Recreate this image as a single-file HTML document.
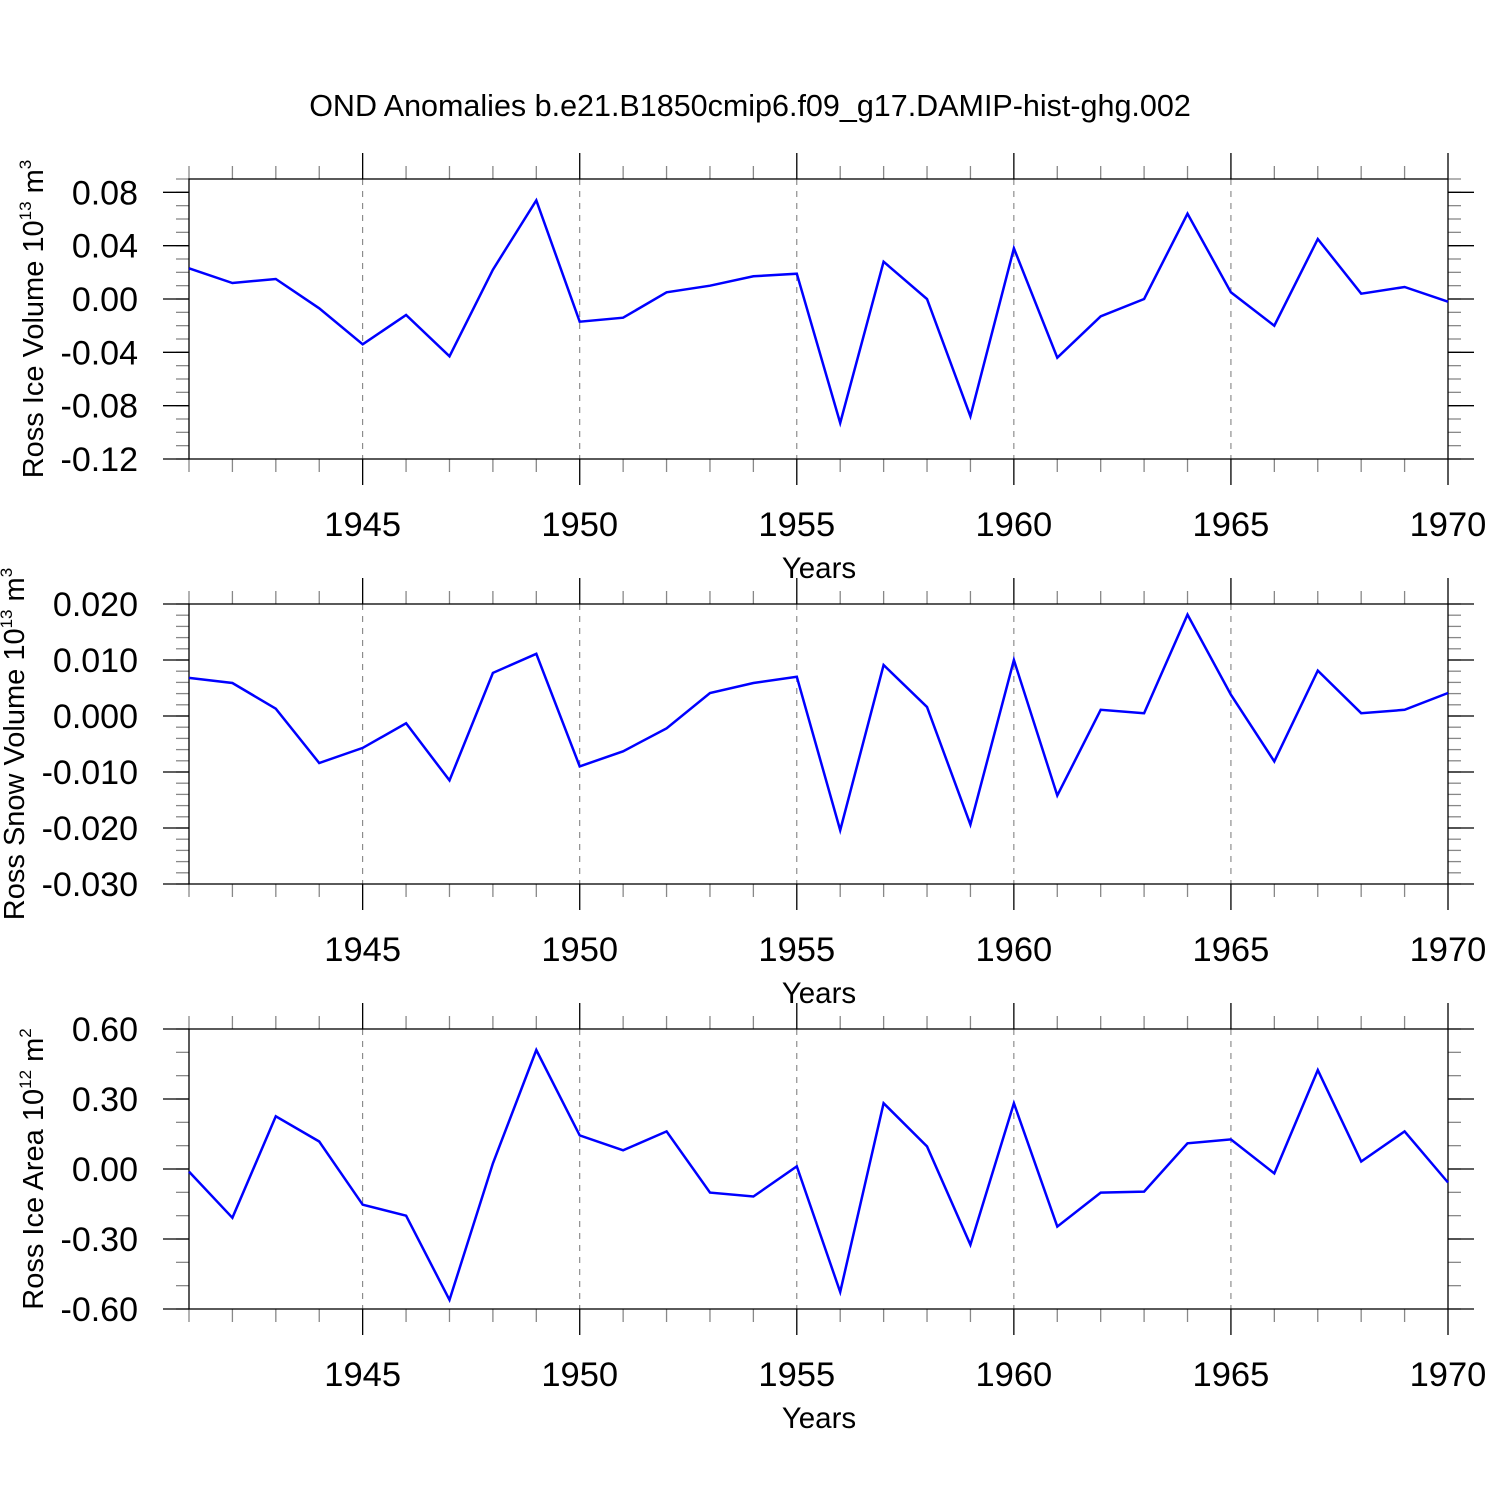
<!DOCTYPE html>
<html><head><meta charset="utf-8"><style>
html,body{margin:0;padding:0;background:#fff}
svg{display:block;font-family:"Liberation Sans",sans-serif}
</style></head><body>
<svg id="chart" width="1500" height="1500" viewBox="0 0 1500 1500" xmlns="http://www.w3.org/2000/svg">
<rect width="1500" height="1500" fill="#fff"/>
<text x="750" y="116" font-size="30.5" text-anchor="middle">OND Anomalies b.e21.B1850cmip6.f09_g17.DAMIP-hist-ghg.002</text>
<g id="panels"></g>
</svg>
<script>
const years = [1941,1942,1943,1944,1945,1946,1947,1948,1949,1950,1951,1952,1953,1954,1955,1956,1957,1958,1959,1960,1961,1962,1963,1964,1965,1966,1967,1968,1969,1970];
const iceVolume = [0.023,0.012,0.015,-0.007,-0.034,-0.012,-0.043,0.022,0.074,-0.017,-0.014,0.005,0.010,0.017,0.019,-0.093,0.028,0.000,-0.088,0.038,-0.044,-0.013,0.000,0.064,0.005,-0.020,0.045,0.004,0.009,-0.002];
const snowVolume = [0.0068,0.0059,0.0013,-0.0084,-0.0057,-0.0013,-0.0115,0.0077,0.0111,-0.0090,-0.0063,-0.0022,0.0041,0.0059,0.0070,-0.0204,0.0091,0.0016,-0.0194,0.0100,-0.0142,0.0011,0.0005,0.0181,0.0038,-0.0081,0.0081,0.0005,0.0011,0.0041];
const iceArea = [-0.011,-0.209,0.226,0.118,-0.153,-0.200,-0.561,0.024,0.510,0.144,0.080,0.161,-0.101,-0.118,0.011,-0.527,0.282,0.097,-0.325,0.282,-0.247,-0.101,-0.097,0.110,0.127,-0.019,0.424,0.032,0.161,-0.058];
const xTicks = [1945,1950,1955,1960,1965,1970];
const iceVolTicks = ["0.08","0.04","0.00","-0.04","-0.08","-0.12"];
const snowTicks = ["0.020","0.010","0.000","-0.010","-0.020","-0.030"];
const areaTicks = ["0.60","0.30","0.00","-0.30","-0.60"];

const NS="http://www.w3.org/2000/svg";
const root=document.getElementById('panels');
const L=189,R=1448;
function xs(y){return L+(y-1941)/(1970-1941)*(R-L);}
function mk(tag,attrs,parent){const e=document.createElementNS(NS,tag);for(const k in attrs)e.setAttribute(k,attrs[k]);(parent||root).appendChild(e);return e;}

const panels=[
 {top:179,bot:459,min:-0.12,max:0.09,vals:iceVolume,ticks:iceVolTicks,minor:0.01,name:'ice-volume',label:'Ross Ice Volume 10',sup:'13',unit:' m',usup:'3',lx:138,tx:43},
 {top:604,bot:884,min:-0.03,max:0.02,vals:snowVolume,ticks:snowTicks,minor:0.002,name:'snow-volume',label:'Ross Snow Volume 10',sup:'13',unit:' m',usup:'3',lx:138,tx:24},
 {top:1029,bot:1309,min:-0.6,max:0.6,vals:iceArea,ticks:areaTicks,minor:0.1,name:'ice-area',label:'Ross Ice Area 10',sup:'12',unit:' m',usup:'2',lx:138,tx:43}
];

panels.forEach(p=>{
 const g=mk('g',{});
 
 
 const ys=v=>p.bot-(v-p.min)/(p.max-p.min)*(p.bot-p.top);
 xTicks.slice(0,5).forEach(t=>{
  const l=mk('line',{x1:xs(t),x2:xs(t),y1:p.top,y2:p.bot,stroke:'#777','stroke-width':1,'stroke-dasharray':'6,6'},g);
  
  
 });
 years.forEach(y=>{
  const major=y%5===0; const len=major?26:13; const x=xs(y);
  mk('line',{x1:x,x2:x,y1:p.top-len,y2:p.top,stroke:major?'#000':'#888','stroke-width':1.3},g);
  mk('line',{x1:x,x2:x,y1:p.bot,y2:p.bot+len,stroke:major?'#000':'#888','stroke-width':1.3},g);
 });
 xTicks.forEach(t=>{
  const tx=mk('text',{x:xs(t),y:p.bot+77,'font-size':34.5,'text-anchor':'middle'},g);
  tx.textContent=t;
  
  
 });
 const n=Math.round((p.max-p.min)/p.minor);
 for(let i=0;i<=n;i++){
  const v=p.min+i*p.minor; const y=ys(v);
  mk('line',{x1:L-13,x2:L,y1:y,y2:y,stroke:'#888','stroke-width':1.3},g);
  mk('line',{x1:R,x2:R+13,y1:y,y2:y,stroke:'#888','stroke-width':1.3},g);
 }
 p.ticks.forEach(t=>{
  const y=ys(parseFloat(t));
  mk('line',{x1:L-26,x2:L,y1:y,y2:y,stroke:'#000','stroke-width':1.3},g);
  mk('line',{x1:R,x2:R+26,y1:y,y2:y,stroke:'#000','stroke-width':1.3},g);
  const tx=mk('text',{x:p.lx,y:y+12,'font-size':34,'text-anchor':'end'},g);
  tx.textContent=t;
  
  
 });
 const fr=mk('rect',{x:L,y:p.top,width:R-L,height:p.bot-p.top,fill:'none',stroke:'#000','stroke-width':1.3},g);
 
 
 const pts=p.vals.map((v,i)=>xs(years[i]).toFixed(1)+','+ys(v).toFixed(1)).join(' ');
 const pl=mk('polyline',{points:pts,fill:'none',stroke:'#0000ff','stroke-width':2.5,'stroke-linejoin':'miter'},g);
 
 
 const xt=mk('text',{x:819,y:p.bot+119,'font-size':29.5,'text-anchor':'middle'},g);
 xt.textContent='Years';
 
 
 const cy=(p.top+p.bot)/2;
 const yt=mk('text',{x:0,y:0,'font-size':29,'text-anchor':'middle',transform:`translate(${p.tx},${cy}) rotate(-90)`},g);
 
 
 const a=document.createElementNS(NS,'tspan');a.textContent=p.label;yt.appendChild(a);
 const b=document.createElementNS(NS,'tspan');b.setAttribute('dy','-12');b.setAttribute('font-size','17');b.textContent=p.sup;yt.appendChild(b);
 const c=document.createElementNS(NS,'tspan');c.setAttribute('dy','12');c.textContent=p.unit;yt.appendChild(c);
 const d=document.createElementNS(NS,'tspan');d.setAttribute('dy','-12');d.setAttribute('font-size','17');d.textContent=p.usup;yt.appendChild(d);
});
</script>
</body></html>
